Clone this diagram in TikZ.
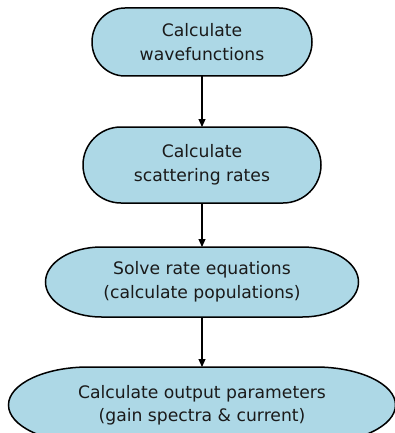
\documentclass[tikz,border=0pt]{standalone}
\usepackage{fontspec}
\setmainfont{DejaVu Sans}
\usetikzlibrary{arrows.meta,backgrounds}
\definecolor{boxfill}{HTML}{ADD8E6}
\definecolor{inkcol}{HTML}{1A1A1A}
\tikzset{
  txt/.style={draw=none, align=center, outer sep=0pt, inner sep=0pt, text=inkcol,
    font=\fontsize{17.2}{23.5}\selectfont},
  shapeline/.style={fill=boxfill, draw=black, line width=1.5pt},
  flowarrow/.style={draw=black, line width=1.1pt, -{Triangle[length=8pt,width=7pt]}}
}
\newcommand\pillbg[3]{% node, rx, ry
  \path[shapeline] ([xshift=#2pt]#1.north west) -- ([xshift=-#2pt]#1.north east)
    arc[start angle=90, end angle=-90, x radius=#2pt, y radius=#3pt]
    -- ([xshift=#2pt]#1.south west)
    arc[start angle=270, end angle=90, x radius=#2pt, y radius=#3pt] -- cycle;}
\begin{document}
\begin{tikzpicture}[x=1pt,y=-1pt]
\useasboundingbox (0,0) rectangle (395,433);
\node[txt, minimum width=220pt, minimum height=68pt] (n1) at (202,42) {Calculate\\wavefunctions};
\node[txt, minimum width=238pt, minimum height=76pt] (n2) at (202,165) {Calculate\\scattering rates};
\node[txt, minimum width=313pt, minimum height=70pt] (n3) at (202,282) {Solve rate equations\\(calculate populations)};
\node[txt, minimum width=387pt, minimum height=76pt] (n4) at (202,405) {Calculate output parameters\\(gain spectra \& current)};
\begin{scope}[on background layer]
\pillbg{n1}{33}{34}
\pillbg{n2}{38}{38}
\pillbg{n3}{56}{35}
\pillbg{n4}{80}{38}
\end{scope}
\draw[flowarrow] (n1.south) -- (n2.north);
\draw[flowarrow] (n2.south) -- (n3.north);
\draw[flowarrow] (n3.south) -- (n4.north);
\end{tikzpicture}
\end{document}
